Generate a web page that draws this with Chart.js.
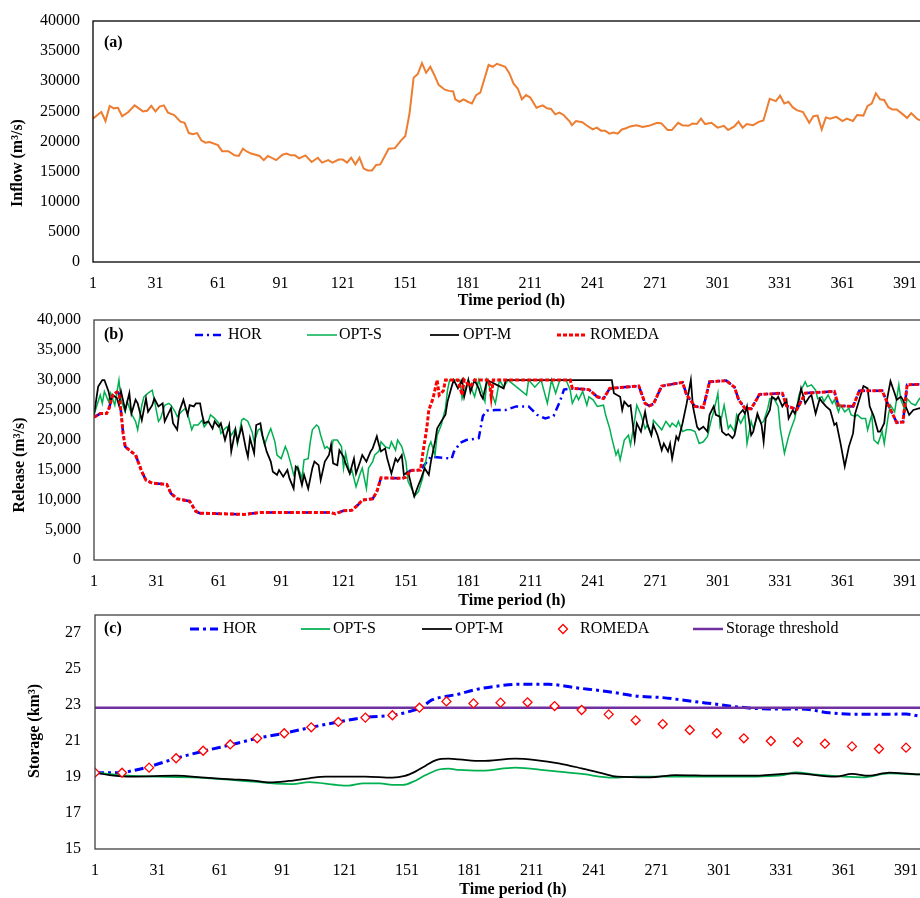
<!DOCTYPE html>
<html>
<head>
<meta charset="utf-8">
<script src="https://cdn.jsdelivr.net/npm/chart.js@4.4.1/dist/chart.umd.min.js"></script>
<style>
  html, body { margin: 0; padding: 0; background: #fff; overflow: hidden; width: 920px; height: 898px; }
  canvas { position: absolute; left: 0; }
</style>
</head>
<body>
<canvas id="inflowChart" width="940" height="310" style="top:0px"></canvas>
<canvas id="releaseChart" width="940" height="310" style="top:300px"></canvas>
<canvas id="storageChart" width="940" height="300" style="top:598px"></canvas>
<script>
// x axis labels (hours)
const xTicks = [1, 31, 61, 91, 121, 151, 181, 211, 241, 271, 301, 331, 361, 391];
const yTicksFlow = [0, 5000, 10000, 15000, 20000, 25000, 30000, 35000, 40000];
const yTicksStorage = [15, 17, 19, 21, 23, 25, 27];

// (a) inflow
const inflowHours = [
  1, 4, 5, 7, 9, 11, 13, 15, 18, 21,
  25, 27, 29, 31, 33, 35, 37, 40, 43, 45,
  47, 49, 51, 53, 55, 57, 61, 63, 66, 69,
  71, 73, 75, 77, 81, 83, 85, 89, 92, 94,
  96, 98, 100, 103, 106, 109, 111, 114, 116, 119,
  121, 123, 125, 127, 129, 131, 133, 135, 137, 139,
  143, 146, 149, 151, 153, 155, 157, 159, 161, 163,
  165, 167, 170, 172, 174, 175, 177, 179, 181, 183,
  185, 187, 191, 193, 195, 199, 201, 203, 205, 207,
  209, 211, 214, 217, 219, 221, 223, 225, 227, 230,
  231, 233, 236, 238, 241, 243, 245, 247, 249, 251,
  253, 255, 257, 259, 262, 265, 268, 272, 274, 277,
  279, 282, 284, 287, 289, 291, 293, 295, 298, 301,
  304, 306, 309, 311, 313, 315, 318, 321, 323, 326,
  329, 331, 333, 335, 337, 339, 342, 345, 347, 349,
  351, 353, 355, 358, 361, 363, 366, 368, 371, 373,
  375, 377, 379, 381, 383, 385, 387, 390, 392, 394,
  397, 400
];
const inflowValues = [
  23800, 24650, 24900, 23400, 25900, 25500, 25600, 24200, 24900, 26000,
  25000, 25100, 25900, 25000, 25800, 26000, 24800, 24400, 23300, 23100,
  21400, 21200, 21400, 20200, 19800, 19900, 19400, 18400, 18400, 17700,
  17600, 18800, 18300, 18000, 17600, 16900, 17600, 16900, 17800, 18000,
  17700, 17700, 17200, 17700, 16600, 17300, 16500, 16900, 16500, 17000,
  17000, 16500, 17300, 16200, 17300, 15500, 15200, 15200, 16100, 16200,
  18800, 18900, 20200, 20900, 24600, 30600, 31200, 33000, 31400, 32400,
  31000, 29400, 28600, 28400, 28300, 27000, 26600, 27000, 26600, 26300,
  27700, 28100, 32700, 32400, 32900, 32400, 31300, 29600, 28800, 27000,
  27700, 27300, 25600, 26000, 25500, 25400, 24500, 24800, 24400, 23300,
  22700, 23400, 23200, 22700, 22000, 22300, 21800, 21800, 21300, 21500,
  21300, 22000, 22200, 22500, 22700, 22400, 22600, 23100, 23000, 21900,
  21900, 23100, 22700, 22600, 23000, 22900, 23800, 22900, 23100, 22300,
  22600, 21900, 22500, 23300, 22300, 22900, 22700, 23300, 23500, 27100,
  26700, 27600, 26300, 26600, 25700, 25200, 24900, 23100, 24200, 24300,
  22000, 24000, 23800, 24100, 23400, 23800, 23400, 24400, 24300, 25900,
  26300, 28000, 27000, 26900, 25700, 25300, 25300, 24500, 23900, 24700,
  23700, 23300
];

// (b) release
const horReleaseHours = [
  1, 4, 7, 8, 10, 12, 13, 14, 15, 16,
  18, 21, 24, 26, 29, 36, 38, 41, 47, 50,
  52, 63, 73, 81, 100, 115, 117, 121, 125, 128,
  130, 135, 137, 139, 149, 151, 153, 158, 162, 163,
  173, 174, 177, 180, 186, 188, 190, 194, 199, 204,
  210, 214, 218, 222, 225, 227, 230, 231, 239, 243,
  246, 249, 263, 266, 268, 270, 274, 284, 286, 290,
  294, 297, 305, 309, 311, 314, 317, 321, 332, 334,
  339, 343, 357, 359, 366, 369, 380, 383, 387, 390,
  392, 400
];
const horRelease = [
  23800, 24400, 24400, 25000, 27500, 28000, 27800, 24700, 21100, 18900,
  18300, 17500, 14700, 13300, 12800, 12600, 11100, 10200, 9800, 8100,
  7800, 7700, 7600, 7900, 7900, 7900, 7700, 8200, 8300, 9200,
  10000, 10200, 11400, 13700, 13600, 13800, 14900, 15000, 16800, 17200,
  16900, 18000, 19500, 20000, 20300, 24000, 24900, 25000, 25000, 25600,
  25600, 24200, 23600, 24000, 26400, 28400, 28600, 28600, 28400, 27200,
  26900, 28600, 29000, 26100, 25700, 26000, 29000, 29600, 27500, 25600,
  25400, 29700, 29900, 28800, 26700, 25300, 25200, 27600, 27800, 25700,
  25100, 27800, 28100, 25700, 25600, 28200, 28200, 25800, 22900, 23000,
  29200, 29300
];

const optsReleaseHours = [
  1, 3, 4, 5, 6, 8, 9, 11, 13, 14,
  16, 17, 19, 21, 22, 24, 25, 27, 29, 30,
  32, 33, 35, 37, 38, 40, 41, 43, 45, 46,
  48, 49, 51, 53, 54, 56, 57, 59, 61, 62,
  64, 65, 67, 69, 70, 72, 73, 75, 77, 78,
  80, 81, 83, 85, 86, 88, 89, 91, 93, 94,
  96, 97, 99, 101, 102, 104, 105, 106, 108, 109,
  110, 112, 113, 115, 116, 118, 120, 121, 122, 124,
  125, 127, 129, 130, 132, 133, 135, 136, 138, 139,
  141, 143, 144, 146, 147, 149, 151, 152, 154, 155,
  157, 159, 160, 162, 163, 165, 166, 168, 170, 171,
  172, 177, 178, 181, 184, 186, 189, 190, 194, 196,
  198, 200, 209, 210, 213, 216, 219, 221, 223, 225,
  228, 230, 231, 233, 234, 236, 238, 239, 241, 243,
  246, 247, 249, 250, 252, 253, 254, 256, 258, 259,
  261, 262, 264, 266, 267, 269, 270, 272, 274, 276,
  278, 279, 281, 282, 284, 286, 288, 290, 292, 294,
  296, 298, 299, 301, 302, 304, 306, 307, 309, 310,
  312, 314, 315, 317, 318, 320, 322, 323, 325, 326,
  328, 330, 331, 333, 335, 336, 338, 340, 341, 343,
  344, 346, 348, 349, 351, 352, 354, 356, 357, 359,
  360, 362, 364, 365, 367, 368, 370, 372, 373, 375,
  376, 378, 380, 381, 383, 384, 386, 388, 389, 391,
  392, 394, 396, 398, 400
];
const optsRelease = [
  24200, 26400, 27500, 26100, 28100, 26400, 27800, 25800, 30000, 26700,
  24700, 26400, 24400, 23100, 21700, 25800, 27200, 27800, 28300, 26700,
  23100, 23600, 25800, 26100, 25800, 24700, 23900, 24700, 25300, 24400,
  21700, 22500, 22500, 23300, 22200, 23100, 24200, 23600, 22800, 21100,
  21900, 22200, 20800, 21900, 19400, 23300, 23600, 23100, 21400, 19700,
  21700, 21900, 19200, 21100, 21900, 19700, 17500, 16900, 18900, 18100,
  15600, 14200, 15600, 13600, 16700, 16900, 19700, 21700, 22500, 22200,
  20800, 18600, 18900, 18100, 20000, 20000, 18900, 15300, 17800, 14400,
  15000, 12200, 14400, 15300, 11900, 15300, 16400, 17500, 18100, 19700,
  18900, 18600, 19700, 18300, 20000, 18900, 16400, 13100, 11700, 10600,
  11400, 13600, 15600, 18900, 19700, 17500, 20800, 22500, 25300, 28300,
  30000, 30000, 26900, 30000, 27200, 30000, 26400, 30000, 26100, 30000,
  28800, 30000, 27500, 30000, 28800, 30000, 26100, 30000, 27800, 30000,
  30000, 28300, 26100, 27500, 26700, 28100, 25800, 27200, 26700, 25600,
  25800, 24200, 21900, 20300, 17500, 18300, 16700, 20000, 20800, 19200,
  23300, 25800, 24200, 21900, 22500, 20800, 23300, 22500, 21700, 23100,
  22200, 22800, 22200, 23100, 21400, 21700, 21700, 21400, 19400, 19700,
  20600, 23600, 24700, 27800, 22500, 25800, 21900, 22500, 21400, 24200,
  22800, 24200, 19400, 23100, 21900, 23900, 22800, 23100, 25300, 26900,
  26900, 25600, 21900, 17800, 20600, 21700, 23600, 27500, 28300, 29700,
  28900, 29200, 28300, 26900, 27200, 26400, 27500, 26100, 26700, 24700,
  25800, 24700, 25300, 24200, 23900, 24200, 23600, 23600, 21700, 24200,
  20000, 19400, 21400, 19400, 24200, 25800, 24700, 29200, 26700, 25000,
  26900, 26100, 25800, 26900, 26500
];

const optmReleaseHours = [
  1, 3, 5, 6, 8, 9, 10, 12, 13, 14,
  16, 18, 19, 21, 22, 24, 26, 27, 29, 30,
  32, 34, 35, 38, 39, 41, 42, 44, 46, 47,
  49, 50, 52, 53, 54, 56, 58, 59, 61, 62,
  64, 66, 67, 69, 70, 72, 74, 75, 76, 78,
  79, 81, 82, 84, 86, 87, 89, 90, 92, 94,
  95, 97, 98, 99, 101, 102, 104, 106, 107, 109,
  110, 112, 114, 115, 116, 118, 119, 121, 122, 124,
  126, 127, 129, 130, 132, 134, 135, 137, 138, 139,
  141, 142, 144, 146, 147, 149, 150, 152, 154, 155,
  157, 158, 160, 162, 163, 165, 166, 168, 170, 171,
  173, 174, 176, 178, 179, 181, 182, 184, 186, 187,
  188, 190, 198, 199, 250, 251, 254, 255, 256, 258,
  259, 261, 262, 264, 266, 267, 269, 270, 272, 274,
  275, 277, 278, 279, 281, 282, 284, 286, 288, 289,
  291, 292, 294, 296, 297, 299, 300, 302, 303, 305,
  306, 308, 309, 311, 313, 314, 315, 317, 318, 320,
  322, 323, 324, 326, 327, 329, 330, 332, 334, 335,
  337, 338, 340, 341, 343, 345, 346, 348, 350, 351,
  353, 355, 357, 358, 360, 362, 364, 366, 367, 369,
  371, 373, 374, 376, 378, 379, 381, 382, 384, 386,
  387, 389, 390, 393, 395, 398, 400
];
const optmRelease = [
  24200, 28900, 30000, 30000, 28100, 26400, 27500, 27000, 25800, 28100,
  25000, 27800, 24400, 26700, 26100, 23300, 26900, 24700, 25800, 26900,
  25600, 26100, 23100, 25300, 22800, 21700, 24700, 26700, 24200, 25800,
  25600, 26100, 26100, 24200, 22800, 23100, 21900, 23100, 22200, 22800,
  20000, 22500, 18100, 21700, 19700, 22200, 18600, 17200, 20300, 17800,
  22500, 22800, 20800, 18100, 16400, 14700, 14200, 15000, 13900, 15000,
  13600, 11900, 15600, 15300, 12500, 14200, 11900, 15300, 16400, 15800,
  13300, 16400, 17500, 19200, 16100, 15800, 18300, 17200, 16100, 14400,
  16900, 14400, 16400, 17500, 16400, 18100, 18600, 20600, 19200, 18100,
  18600, 16900, 14400, 16900, 16400, 17500, 14200, 14700, 11900, 10600,
  12500, 13300, 15300, 14200, 16400, 19700, 21900, 23100, 24200, 26400,
  28900, 30000, 28600, 30000, 27200, 30000, 28000, 30000, 28600, 27500,
  26900, 30000, 28600, 30000, 30000, 27800, 27200, 25000, 26400, 25600,
  25800, 20000, 22800, 21400, 24700, 22800, 20800, 22500, 20800, 18300,
  19400, 18100, 19400, 16900, 20600, 20000, 22800, 26100, 30000, 25600,
  22200, 21700, 22200, 21400, 24200, 25600, 24200, 23900, 21400, 20800,
  21000, 20300, 20800, 24200, 25000, 24400, 25600, 20800, 21400, 24400,
  22500, 19700, 23600, 25000, 27200, 26700, 27200, 25600, 26700, 23600,
  25000, 24400, 26700, 28600, 26100, 27200, 27500, 24400, 26900, 26400,
  25600, 25000, 22500, 22800, 19400, 15600, 18900, 21100, 24400, 26700,
  29000, 28600, 25600, 23900, 21400, 21400, 22800, 26100, 29800, 27800,
  26700, 27200, 26700, 24200, 25000, 25300, 25000
];

const romedaReleaseHours = [
  1, 4, 7, 8, 10, 12, 13, 14, 15, 16,
  18, 21, 24, 26, 29, 36, 38, 41, 47, 50,
  52, 63, 73, 81, 100, 115, 117, 121, 125, 128,
  130, 135, 137, 139, 149, 151, 153, 158, 159, 161,
  162, 164, 166, 167, 169, 170, 176, 178, 179, 182,
  184, 191, 192, 193, 230, 231, 239, 243, 246, 249,
  263, 266, 268, 270, 274, 284, 286, 290, 294, 297,
  305, 309, 311, 314, 317, 321, 332, 334, 339, 343,
  357, 359, 366, 369, 380, 383, 387, 390, 392, 400
];
const romedaRelease = [
  23800, 24400, 24400, 25000, 27500, 28000, 27800, 24700, 21100, 18900,
  18300, 17500, 14700, 13300, 12800, 12600, 11100, 10200, 9800, 8100,
  7800, 7700, 7600, 7900, 7900, 7900, 7700, 8200, 8300, 9200,
  10000, 10200, 11400, 13700, 13600, 13800, 14900, 15000, 17500, 21900,
  25000, 26900, 30000, 27500, 28200, 30000, 30000, 27500, 30000, 28900,
  30000, 30000, 27200, 30000, 30000, 28600, 28400, 27200, 26900, 28600,
  29000, 26100, 25700, 26000, 29000, 29600, 27500, 25600, 25400, 29700,
  29900, 28800, 26700, 25300, 25200, 27600, 27800, 25700, 25100, 27800,
  28100, 25700, 25600, 28200, 28200, 25800, 22900, 23000, 29200, 29300
];

// (c) storage (km3)
const horStorageHours = [
  1, 14, 19, 27, 40, 54, 67, 79, 92, 105,
  118, 131, 144, 152, 158, 163, 171, 176, 183, 195,
  205, 219, 232, 248, 261, 274, 287, 300, 312, 325,
  341, 354, 367, 380, 391, 397, 403
];
const horStorage = [
  19.24, 19.24, 19.35, 19.57, 20.04, 20.46, 20.81, 21.15, 21.43, 21.76,
  22.06, 22.31, 22.43, 22.63, 22.87, 23.28, 23.5, 23.61, 23.83, 24.06,
  24.15, 24.15, 23.96, 23.74, 23.5, 23.41, 23.22, 23.04, 22.87, 22.78,
  22.78, 22.57, 22.48, 22.48, 22.5, 22.39, 22.35
];
const optsStorageHours = [
  1, 19, 51, 77, 88, 96, 104, 117, 123, 130,
  138, 144, 149, 154, 160, 167, 171, 176, 187, 203,
  219, 235, 250, 261, 284, 308, 332, 338, 348, 361,
  370, 383, 396, 403
];
const optsStorage = [
  19.24, 19.06, 18.96, 18.74, 18.63, 18.61, 18.72, 18.56, 18.52, 18.65,
  18.65, 18.56, 18.56, 18.74, 19.11, 19.43, 19.46, 19.39, 19.35, 19.52,
  19.35, 19.17, 18.96, 19.02, 19.02, 19.02, 19.11, 19.26, 19.13, 19.02,
  18.98, 19.2, 19.15, 19.15
];
const optmStorageHours = [
  1, 8, 19, 40, 54, 67, 77, 85, 94, 104,
  112, 131, 144, 150, 155, 160, 165, 171, 176, 187,
  203, 213, 224, 235, 245, 252, 268, 280, 300, 316,
  338, 357, 365, 373, 383, 396, 403
];
const optmStorage = [
  19.24, 19.11, 19.02, 19.07, 18.96, 18.87, 18.8, 18.7, 18.78, 18.93,
  19.02, 19.02, 18.96, 19.06, 19.3, 19.63, 19.94, 20.02, 19.98, 19.89,
  20.02, 19.94, 19.76, 19.48, 19.2, 19.02, 18.98, 19.11, 19.07, 19.07,
  19.2, 19.02, 19.17, 19.07, 19.24, 19.15, 19.15
];
const romedaStorageHours = [
  1, 14, 27, 40, 53, 66, 79, 92, 105, 118,
  131, 144, 157, 170, 183, 196, 209, 222, 235, 248,
  261, 274, 287, 300, 313, 326, 339, 352, 365, 378,
  391
];
const romedaStorage = [
  19.24, 19.24, 19.52, 20.04, 20.46, 20.81, 21.15, 21.43, 21.76, 22.06,
  22.3, 22.43, 22.85, 23.2, 23.09, 23.13, 23.15, 22.94, 22.72, 22.48,
  22.15, 21.94, 21.61, 21.43, 21.15, 21.0, 20.94, 20.85, 20.7, 20.57,
  20.63
];
const thresholdHours = [1, 403];
const thresholdStorage = [22.85, 22.85];

Chart.defaults.font.family = "'Liberation Serif', 'Times New Roman', serif";
Chart.defaults.font.size = 16;
Chart.defaults.color = '#000';

function pts(hours, vals) {
  return hours.map((h, i) => ({ x: h, y: vals[i] }));
}

// frame, panel tag, rotated y title and in-plot legend
const panelFrame = {
  id: 'panelFrame',
  afterDatasetsDraw(chart, args, o) {
    const { ctx, chartArea: a } = chart;
    ctx.save();
    ctx.strokeStyle = o.frameColor;
    ctx.lineWidth = 1.3;
    ctx.strokeRect(a.left, a.top, a.right - a.left, a.bottom - a.top);
    ctx.fillStyle = '#000';
    ctx.textBaseline = 'middle';
    ctx.font = 'bold 16px "Liberation Serif"';
    ctx.fillText(o.tag, o.tagX, o.tagY);
    ctx.save();
    ctx.translate(o.yTitleX, o.yTitleY);
    ctx.rotate(-Math.PI / 2);
    ctx.textAlign = 'center';
    ctx.fillText(o.yTitle, 0, 0);
    ctx.restore();
    ctx.font = '16px "Liberation Serif"';
    const y = o.legendY;
    (o.legend || []).forEach(item => {
      const ds = chart.data.datasets.find(d => d.label === item.label);
      ctx.save();
      if (item.marker) {
        const r = ds.pointRadius;
        ctx.strokeStyle = ds.pointBorderColor;
        ctx.fillStyle = '#fff';
        ctx.lineWidth = ds.pointBorderWidth;
        ctx.beginPath();
        ctx.moveTo(item.x - r, y);
        ctx.lineTo(item.x, y - r);
        ctx.lineTo(item.x + r, y);
        ctx.lineTo(item.x, y + r);
        ctx.closePath();
        ctx.fill();
        ctx.stroke();
      } else {
        ctx.strokeStyle = ds.borderColor;
        ctx.lineWidth = ds.borderWidth;
        ctx.setLineDash(ds.borderDash || []);
        ctx.beginPath();
        ctx.moveTo(item.x, y);
        ctx.lineTo(item.x + item.w, y);
        ctx.stroke();
      }
      ctx.restore();
      ctx.fillText(item.label, item.textX, y);
    });
    ctx.restore();
  }
};

function xScale(height, titlePad) {
  return {
    type: 'linear',
    min: 1,
    max: 403,
    grid: { display: false, drawTicks: false },
    border: { display: false },
    ticks: { padding: 12, maxRotation: 0, autoSkip: false },
    afterBuildTicks: s => { s.ticks = xTicks.map(v => ({ value: v })); },
    title: {
      display: true,
      text: 'Time period (h)',
      font: { size: 16, weight: 'bold', lineHeight: 1 },
      padding: { top: 0, bottom: titlePad }
    },
    afterFit: s => {
      s.height = height;
      s.paddingLeft = 0;
      s.paddingRight = 0;
    }
  };
}

function yScale(min, max, ticks, width, pad, fmt) {
  return {
    min: min,
    max: max,
    grid: { display: false, drawTicks: false },
    border: { display: false },
    ticks: { padding: pad, callback: fmt },
    afterBuildTicks: s => { s.ticks = ticks.map(v => ({ value: v })); },
    afterFit: s => {
      s.width = width;
      // keep the plot area where the layout padding puts it
      s.paddingTop = 0;
      s.paddingBottom = 0;
    }
  };
}

const baseOpts = {
  responsive: false,
  animation: false,
  events: [],
  elements: { point: { radius: 0 }, line: { tension: 0 } }
};

// (a)
new Chart(document.getElementById('inflowChart'), {
  type: 'line',
  data: {
    datasets: [{
      label: 'Inflow',
      data: pts(inflowHours, inflowValues),
      borderColor: '#ED7D31',
      borderWidth: 2,
      pointRadius: 0
    }]
  },
  options: Object.assign({}, baseOpts, {
    layout: { autoPadding: false, padding: { top: 21, right: 10, left: 0, bottom: 0 } },
    scales: {
      x: xScale(48, 1),
      y: yScale(0, 40000, yTicksFlow, 93, 13, v => String(v))
    },
    plugins: {
      legend: { display: false },
      tooltip: { enabled: false },
      panelFrame: {
        frameColor: '#000', tag: '(a)', tagX: 104, tagY: 43,
        yTitle: 'Inflow (m³/s)', yTitleX: 18, yTitleY: 163
      }
    }
  }),
  plugins: [panelFrame]
});

// (b)
new Chart(document.getElementById('releaseChart'), {
  type: 'line',
  data: {
    datasets: [
      {
        label: 'ROMEDA', data: pts(romedaReleaseHours, romedaRelease), order: 1,
        borderColor: '#FF0000', borderWidth: 3, borderDash: [4, 2], pointRadius: 0
      },
      {
        label: 'OPT-M', data: pts(optmReleaseHours, optmRelease), order: 2,
        borderColor: '#000000', borderWidth: 1.75, pointRadius: 0
      },
      {
        label: 'OPT-S', data: pts(optsReleaseHours, optsRelease), order: 3,
        borderColor: '#00B050', borderWidth: 1.5, pointRadius: 0
      },
      {
        label: 'HOR', data: pts(horReleaseHours, horRelease), order: 4,
        borderColor: '#0000FF', borderWidth: 2.5, borderDash: [8, 4, 2, 4], pointRadius: 0
      }
    ]
  },
  options: Object.assign({}, baseOpts, {
    layout: { autoPadding: false, padding: { top: 20, right: 10, left: 0, bottom: 0 } },
    scales: {
      x: xScale(50, 1),
      y: yScale(0, 40000, yTicksFlow, 94, 13, v => v.toLocaleString('en-US'))
    },
    plugins: {
      legend: { display: false },
      tooltip: { enabled: false },
      panelFrame: {
        frameColor: '#404040', tag: '(b)', tagX: 104, tagY: 35,
        yTitle: 'Release (m³/s)', yTitleX: 20, yTitleY: 165,
        legendY: 35,
        legend: [
          { label: 'HOR', x: 195, w: 26, textX: 228 },
          { label: 'OPT-S', x: 307, w: 30, textX: 339 },
          { label: 'OPT-M', x: 430, w: 29, textX: 463 },
          { label: 'ROMEDA', x: 557, w: 30, textX: 590 }
        ]
      }
    }
  }),
  plugins: [panelFrame]
});

// (c)
new Chart(document.getElementById('storageChart'), {
  type: 'line',
  data: {
    datasets: [
      {
        label: 'ROMEDA', data: pts(romedaStorageHours, romedaStorage), order: 0,
        showLine: false, pointStyle: 'rectRot', pointRadius: 4.5,
        pointBorderColor: '#FF0000', pointBackgroundColor: '#FFFFFF', pointBorderWidth: 1.3,
        borderColor: '#FF0000'
      },
      {
        label: 'Storage threshold', data: pts(thresholdHours, thresholdStorage), order: 1,
        borderColor: '#7030A0', borderWidth: 2.5, pointRadius: 0
      },
      {
        label: 'OPT-M', data: pts(optmStorageHours, optmStorage), order: 2,
        borderColor: '#000000', borderWidth: 1.75, pointRadius: 0, cubicInterpolationMode: 'monotone'
      },
      {
        label: 'OPT-S', data: pts(optsStorageHours, optsStorage), order: 3,
        borderColor: '#00B050', borderWidth: 1.75, pointRadius: 0, cubicInterpolationMode: 'monotone'
      },
      {
        label: 'HOR', data: pts(horStorageHours, horStorage), order: 4,
        borderColor: '#0000FF', borderWidth: 3, borderDash: [9, 4, 3, 4], pointRadius: 0,
        cubicInterpolationMode: 'monotone'
      }
    ]
  },
  options: Object.assign({}, baseOpts, {
    layout: { autoPadding: false, padding: { top: 17, right: 9, left: 0, bottom: 0 } },
    scales: {
      x: xScale(49, 0),
      y: yScale(15, 28, yTicksStorage, 95, 14, v => String(v))
    },
    plugins: {
      legend: { display: false },
      tooltip: { enabled: false },
      panelFrame: {
        frameColor: '#404040', tag: '(c)', tagX: 104, tagY: 31,
        yTitle: 'Storage (km³)', yTitleX: 35, yTitleY: 133,
        legendY: 31,
        legend: [
          { label: 'HOR', x: 190, w: 28, textX: 223 },
          { label: 'OPT-S', x: 301, w: 29, textX: 333 },
          { label: 'OPT-M', x: 422, w: 30, textX: 455 },
          { label: 'ROMEDA', x: 563, marker: true, textX: 580 },
          { label: 'Storage threshold', x: 693, w: 30, textX: 726 }
        ]
      }
    }
  }),
  plugins: [panelFrame]
});
</script>
</body>
</html>
